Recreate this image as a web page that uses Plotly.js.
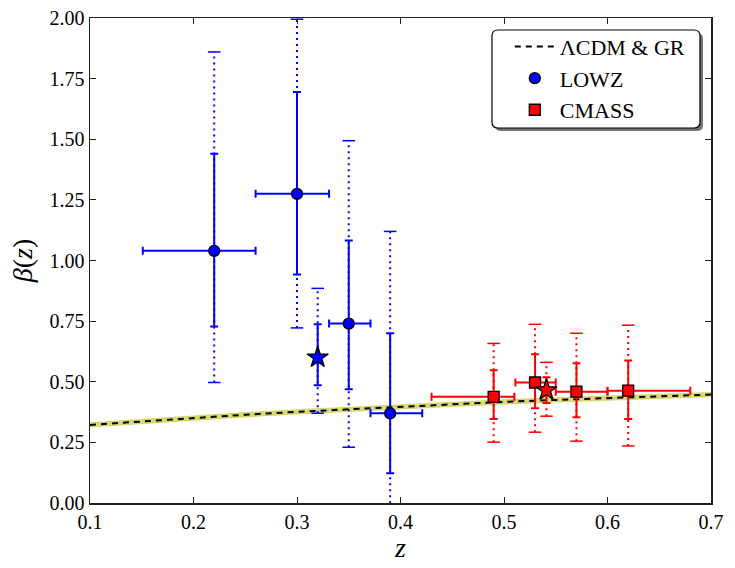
<!DOCTYPE html>
<html>
<head>
<meta charset="utf-8">
<script src="https://cdn.plot.ly/plotly-3.0.1.min.js"></script>
<style>html,body{margin:0;padding:0;background:#fff;}#chart{width:735px;height:568px;}</style>
</head>
<body>
<div id="chart"></div>
<script>
// LCDM & GR prediction
const modelZ = [0.10, 0.15, 0.20, 0.25, 0.30, 0.35, 0.40, 0.45, 0.50, 0.55, 0.60, 0.65, 0.70];
const modelBeta = [0.322, 0.337, 0.351, 0.364, 0.376, 0.387, 0.398, 0.408, 0.417, 0.425, 0.433, 0.440, 0.447];
const modelBandLo = [0.313, 0.328, 0.342, 0.355, 0.367, 0.378, 0.389, 0.399, 0.408, 0.416, 0.424, 0.431, 0.438];
const modelBandHi = [0.331, 0.346, 0.360, 0.373, 0.385, 0.396, 0.407, 0.417, 0.426, 0.434, 0.442, 0.449, 0.456];

// LOWZ
const lowzZ = [0.22, 0.30, 0.35, 0.39];
const lowzBeta = [1.04, 1.275, 0.74, 0.37];
const lowzZLo = [0.151, 0.260, 0.331, 0.371];
const lowzZHi = [0.260, 0.331, 0.371, 0.421];
const lowzSolidLo = [0.728, 0.942, 0.469, 0.123];
const lowzSolidHi = [1.440, 1.695, 1.082, 0.700];
const lowzDotLo = [0.497, 0.722, 0.230, -0.05];
const lowzDotHi = [1.860, 1.995, 1.494, 1.120];
// LOWZ star
const lowzStarZ = [0.32];
const lowzStarBeta = [0.600];
const lowzStarSolidLo = [0.486];
const lowzStarSolidHi = [0.737];
const lowzStarDotLo = [0.370];
const lowzStarDotHi = [0.885];

// CMASS
const cmassZ = [0.49, 0.53, 0.57, 0.62];
const cmassBeta = [0.438, 0.497, 0.459, 0.463];
const cmassZLo = [0.430, 0.511, 0.550, 0.600];
const cmassZHi = [0.510, 0.550, 0.600, 0.680];
const cmassSolidLo = [0.346, 0.391, 0.354, 0.346];
const cmassSolidHi = [0.547, 0.613, 0.576, 0.588];
const cmassDotLo = [0.251, 0.292, 0.255, 0.235];
const cmassDotHi = [0.658, 0.737, 0.700, 0.733];
// CMASS star
const cmassStarZ = [0.541];
const cmassStarBeta = [0.465];
const cmassStarSolidLo = [0.412];
const cmassStarSolidHi = [0.519];
const cmassStarDotLo = [0.358];
const cmassStarDotHi = [0.580];

const xTicks = [0.1, 0.2, 0.3, 0.4, 0.5, 0.6, 0.7];
const yTicks = [0.00, 0.25, 0.50, 0.75, 1.00, 1.25, 1.50, 1.75, 2.00];

const BLUE = '#0000ff', RED = '#ff0000';
const FONT = 'Liberation Serif, Times New Roman, serif';

function segs(z, lo, hi) {
  const xs = [], ys = [];
  z.forEach((v, i) => { xs.push(v, v, null); ys.push(lo[i], hi[i], null); });
  return {xs, ys};
}
function caps(z, lo, hi) {
  const xs = [], ys = [];
  z.forEach((v, i) => { xs.push(v, v); ys.push(lo[i], hi[i]); });
  return {xs, ys};
}
function dottedTraces(z, lo, hi, color) {
  const s = segs(z, lo, hi), c = caps(z, lo, hi);
  return [
    {x: s.xs, y: s.ys, mode: 'lines', line: {color: color, width: 2, dash: '2px,4px'}, showlegend: false, hoverinfo: 'skip'},
    {x: c.xs, y: c.ys, mode: 'markers', marker: {symbol: 'line-ew', size: 9, line: {color: color, width: 1.5}}, showlegend: false, hoverinfo: 'skip'}
  ];
}
function diff(a, b) { return a.map((v, i) => v - b[i]); }

const traces = [
  {x: modelZ, y: modelBandLo, mode: 'lines', line: {color: 'rgba(180,180,20,0.7)', width: 0.6}, showlegend: false, hoverinfo: 'skip'},
  {x: modelZ, y: modelBandHi, mode: 'lines', fill: 'tonexty', fillcolor: 'rgba(210,210,80,0.8)', line: {color: 'rgba(180,180,20,0.7)', width: 0.6}, showlegend: false, hoverinfo: 'skip'},
  {x: modelZ, y: modelBeta, mode: 'lines', name: 'ΛCDM & GR', line: {color: '#000', width: 2, dash: '6px,5px'}},
  ...dottedTraces(lowzZ, lowzDotLo, lowzDotHi, BLUE),
  ...dottedTraces(lowzStarZ, lowzStarDotLo, lowzStarDotHi, BLUE),
  ...dottedTraces(cmassZ, cmassDotLo, cmassDotHi, RED),
  ...dottedTraces(cmassStarZ, cmassStarDotLo, cmassStarDotHi, RED),
  {x: lowzZ, y: lowzBeta, mode: 'markers', name: 'LOWZ',
   marker: {symbol: 'circle', size: 11, color: BLUE, line: {color: '#000', width: 1.3}},
   error_y: {type: 'data', symmetric: false, array: diff(lowzSolidHi, lowzBeta), arrayminus: diff(lowzBeta, lowzSolidLo), color: BLUE, thickness: 2, width: 4},
   error_x: {type: 'data', symmetric: false, array: diff(lowzZHi, lowzZ), arrayminus: diff(lowzZ, lowzZLo), color: BLUE, thickness: 2, width: 4}},
  {x: lowzStarZ, y: lowzStarBeta, mode: 'markers', showlegend: false,
   marker: {symbol: 'star', size: 16, color: BLUE, line: {color: '#000', width: 1.3}},
   error_y: {type: 'data', symmetric: false, array: diff(lowzStarSolidHi, lowzStarBeta), arrayminus: diff(lowzStarBeta, lowzStarSolidLo), color: BLUE, thickness: 2, width: 4}},
  {x: cmassZ, y: cmassBeta, mode: 'markers', name: 'CMASS',
   marker: {symbol: 'square', size: 11, color: RED, line: {color: '#000', width: 1.3}},
   error_y: {type: 'data', symmetric: false, array: diff(cmassSolidHi, cmassBeta), arrayminus: diff(cmassBeta, cmassSolidLo), color: RED, thickness: 2, width: 4},
   error_x: {type: 'data', symmetric: false, array: diff(cmassZHi, cmassZ), arrayminus: diff(cmassZ, cmassZLo), color: RED, thickness: 2, width: 4}},
  {x: cmassStarZ, y: cmassStarBeta, mode: 'markers', showlegend: false,
   marker: {symbol: 'star', size: 16, color: RED, line: {color: '#000', width: 1.3}},
   error_y: {type: 'data', symmetric: false, array: diff(cmassStarSolidHi, cmassStarBeta), arrayminus: diff(cmassStarBeta, cmassStarSolidLo), color: RED, thickness: 2, width: 4}}
];

// rounded legend frame (matplotlib style) with shadow, in paper coordinates
const PW = 621, PH = 485;
function roundRect(x0, y0, x1, y1, rpx) {
  const rx = rpx / PW, ry = rpx / PH;
  return `M ${x0 + rx},${y1} L ${x1 - rx},${y1} Q ${x1},${y1} ${x1},${y1 - ry} L ${x1},${y0 + ry} Q ${x1},${y0} ${x1 - rx},${y0} ` +
         `L ${x0 + rx},${y0} Q ${x0},${y0} ${x0},${y0 + ry} L ${x0},${y1 - ry} Q ${x0},${y1} ${x0 + rx},${y1} Z`;
}
const LX0 = 0.6473, LX1 = 0.9823, LY0 = 0.7732, LY1 = 0.9753;
const sdx = 3 / PW, sdy = 3 / PH;
const shapes = [
  {type: 'path', xref: 'paper', yref: 'paper', layer: 'above', path: roundRect(LX0 + sdx, LY0 - sdy, LX1 + sdx, LY1 - sdy, 6),
   fillcolor: 'rgba(0,0,0,0.55)', line: {width: 0}},
  {type: 'path', xref: 'paper', yref: 'paper', layer: 'above', path: roundRect(LX0, LY0, LX1, LY1, 6),
   fillcolor: '#ffffff', line: {color: '#000', width: 1.2}}
];

const axisCommon = {
  showgrid: false, zeroline: false, showline: true, linecolor: '#222', linewidth: 1.5,
  mirror: 'ticks', ticks: 'inside', ticklen: 6, tickwidth: 1, tickcolor: '#222',
  tickfont: {family: FONT, size: 20, color: '#000'}
};

const layout = {
  width: 735, height: 568,
  margin: {l: 90, r: 24, t: 18, b: 65, pad: 0},
  paper_bgcolor: '#fff', plot_bgcolor: '#fff',
  font: {family: FONT, color: '#000'},
  xaxis: Object.assign({}, axisCommon, {range: [0.1, 0.7], tickvals: xTicks, ticktext: xTicks.map(v => v.toFixed(1)),
    title: {text: '<i>z</i>', font: {family: FONT, size: 28}, standoff: 6}}),
  yaxis: Object.assign({}, axisCommon, {range: [0, 2], tickvals: yTicks, ticktext: yTicks.map(v => v.toFixed(2)),
    title: {text: '<i>β</i>(<i>z</i>)', font: {family: FONT, size: 28}, standoff: 8}}),
  shapes: shapes,
  legend: {x: 0.676, y: 0.984, xanchor: 'left', yanchor: 'top', bgcolor: 'rgba(0,0,0,0)', borderwidth: 0,
    font: {family: FONT, size: 22}, traceorder: 'normal', tracegroupgap: 0, itemwidth: 40},
  showlegend: true
};

Plotly.newPlot('chart', traces, layout, {displayModeBar: false, staticPlot: true});
</script>
</body>
</html>
